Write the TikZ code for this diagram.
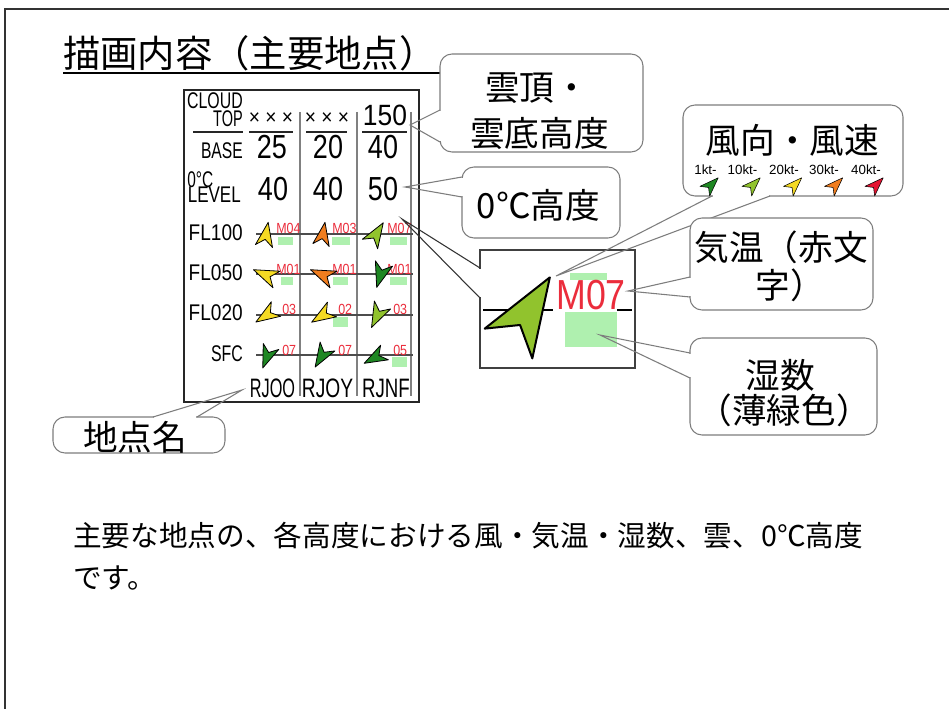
\documentclass[tikz,border=0pt]{standalone}
\usepackage{fontspec}
\usepackage{graphicx}
\setmainfont{Liberation Sans}
\newfontfamily\jp{Noto Sans CJK JP}
\usetikzlibrary{fit}
\definecolor{wyel}{RGB}{245,218,35}
\definecolor{wora}{RGB}{240,125,30}
\definecolor{wlgr}{RGB}{145,195,45}
\definecolor{wdgr}{RGB}{30,135,35}
\definecolor{wred}{RGB}{228,20,50}
\definecolor{tred}{RGB}{235,45,60}
\definecolor{hum}{RGB}{175,240,175}
\definecolor{cgray}{RGB}{125,125,125}
\newcommand{\sx}[2]{\scalebox{#1}[1]{#2}}
\newcommand{\fs}[1]{\fontsize{#1}{#1}\selectfont}
\newcommand{\warrow}[6]{%
  \filldraw[fill=#5, draw=black, line width=#6, line join=round, shift={(#1,#2)}, rotate=#3]
   (#4,0) -- (0,{0.36*#4}) -- ({0.28*#4},0) -- (0,{-0.36*#4}) -- cycle;}
\begin{document}
\begin{tikzpicture}[x=0.75pt,y=-0.75pt,
  cbox/.style={draw=cgray, line width=0.8pt, rounded corners=9pt, fill=white, inner sep=0pt},
  ctail/.style={draw=cgray, line width=0.8pt},
  gapw/.style={draw=white, line width=1.8pt},
  jt/.style={font=\jp\fs{26}, inner sep=0pt},
  lab/.style={font=\fs{17}, inner sep=0pt, anchor=east},
  val/.style={font=\fs{25}, inner sep=0pt},
  stn/.style={font=\fs{20}, inner sep=0pt},
  rt/.style={font=\fs{11}, text=tred, inner sep=0pt, anchor=west},
  kt/.style={font=\fs{10}, inner sep=0pt}]
\useasboundingbox (0,0) rectangle (949,709);
\fill[white] (0,0) rectangle (949,709);
\draw[line width=1.5pt, black!80] (5,709) -- (5,9) -- (949,9);

% title
\node[font=\jp\fs{28}, inner sep=0pt, anchor=base west] (title) at (63,68) {描画内容（主要地点）};
\draw[line width=1.2pt] (63,73) -- (445,73);

% table frame
\node[draw=black!85, line width=1.5pt, fit={(184,90)(419,402)}, inner sep=0pt] (tbl) {};
\foreach \x in {300,357,411} \draw[gray, line width=1.1pt] (\x,112) -- (\x,396);
\foreach \a/\b in {193/243, 249/293, 306/347, 362/407} \draw[line width=1.1pt, black!85] (\a,132) -- (\b,132);
\foreach \y in {234,274,315,355} \draw[black!70, line width=0.8pt] (256,\y) -- (413,\y);

% labels
\node[lab] (cl) at (243,101) {\sx{0.70}{CLOUD}};
\node[lab] (tp) at (243,119) {\sx{0.64}{TOP}};
\node[lab] (bs) at (243,151) {\sx{0.69}{BASE}};
\node[lab, anchor=west] (zc) at (187,180) {\sx{0.68}{0°C}};
\node[lab] (lv) at (241,195) {\sx{0.75}{LEVEL}};
\node[lab] (f1) at (243,233) {\sx{0.84}{FL100}};
\node[lab] (f2) at (243,273) {\sx{0.84}{FL050}};
\node[lab] (f3) at (243,313) {\sx{0.84}{FL020}};
\node[lab] (f4) at (243,354) {\sx{0.70}{SFC}};

% values
\node[font=\fs{16}, inner sep=0pt] (x1) at (271,119) {\sx{0.9}{× × ×}};
\node[font=\fs{16}, inner sep=0pt] (x2) at (327,119) {\sx{0.9}{× × ×}};
\node[font=\fs{22}, inner sep=0pt] (v150) at (385,115) {\sx{0.9}{150}};
\node[val] (b1) at (272,147) {\sx{0.81}{25}};
\node[val] (b2) at (328,147) {\sx{0.81}{20}};
\node[val] (b3) at (383,147) {\sx{0.81}{40}};
\node[val] (z1) at (273,189) {\sx{0.81}{40}};
\node[val] (z2) at (328,189) {\sx{0.81}{40}};
\node[val] (z3) at (383,189) {\sx{0.81}{50}};
\node[stn] (s1) at (272.5,388) {\sx{0.61}{RJOO}};
\node[stn] (s2) at (327.5,388) {\sx{0.72}{RJOY}};
\node[stn] (s3) at (386,388) {\sx{0.70}{RJNF}};

% humidity boxes
\fill[hum] (278,237) rectangle (293,245);
\fill[hum] (332,237) rectangle (350,245);
\fill[hum] (390,237) rectangle (407,245);
\fill[hum] (281,277) rectangle (293,285);
\fill[hum] (333,277) rectangle (348,285);
\fill[hum] (390,277) rectangle (407,285);
\fill[hum] (333,317) rectangle (348,327);
\fill[hum] (392,357) rectangle (407,367);

% temperatures
\node[rt] (r11) at (276,228) {\sx{0.85}{M04}};
\node[rt] (r12) at (332,228) {\sx{0.85}{M03}};
\node[rt] (r13) at (387,228) {\sx{0.85}{M07}};
\node[rt] (r21) at (276,269) {\sx{0.85}{M01}};
\node[rt] (r22) at (332,269) {\sx{0.85}{M01}};
\node[rt] (r23) at (387,269) {\sx{0.85}{M01}};
\node[rt] (r31) at (282,309) {\sx{0.85}{03}};
\node[rt] (r32) at (338,309) {\sx{0.85}{02}};
\node[rt] (r33) at (393,309) {\sx{0.85}{03}};
\node[rt] (r41) at (282,350) {\sx{0.85}{07}};
\node[rt] (r42) at (338,350) {\sx{0.85}{07}};
\node[rt] (r43) at (393,350) {\sx{0.85}{05}};

% wind arrows
\warrow{264}{246}{80}{24}{wyel}{0.6pt}
\warrow{321}{245}{80}{23}{wora}{0.6pt}
\warrow{370}{244}{58}{25}{wlgr}{0.6pt}
\warrow{276.5}{279.5}{157}{25}{wyel}{0.6pt}
\warrow{333.5}{279.5}{157}{25}{wora}{0.6pt}
\warrow{384}{263.5}{253}{25}{wdgr}{0.6pt}
\warrow{276}{309}{213}{24}{wyel}{0.6pt}
\warrow{332}{309.5}{212}{24}{wyel}{0.6pt}
\warrow{382.5}{305}{244}{25}{wlgr}{0.6pt}
\warrow{271}{346.5}{249}{23}{wdgr}{0.6pt}
\warrow{327.5}{346.5}{239}{24}{wdgr}{0.6pt}
\warrow{384.5}{352.5}{208}{23}{wdgr}{0.6pt}

% magnified cell
\node[draw=black!75, line width=1.5pt, fill=white, fit={(480,250)(635,368)}, inner sep=0pt] (mag) {};
\draw[line width=1.5pt] (483,310) -- (632,310);
\fill[white] (553,279) rectangle (617,311.5);
\fill[hum] (570,273) rectangle (607,280);
\fill[hum] (565,311.5) rectangle (617,347);
\node[font=\fs{31.5}, text=tred, inner sep=0pt, anchor=west] (m07) at (556,295) {\sx{0.85}{M07}};
\warrow{508.5}{343.5}{58}{78}{wlgr}{1.5pt}
\coordinate (mt) at (402,219);
\draw[white, line width=2.5pt] (480,269) -- (480,297);
\draw[black!80, line width=0.8pt] (480,268) -- (mt) -- (480,298);

% callout: cloud top/base
\node[cbox, fit={(440,54)(643,152)}] (c1) {};
\draw[gapw] (440,111) -- (440,141);
\coordinate (t1) at (410,125);
\draw[ctail] (440,110) -- (t1) -- (440,142);
\node[jt] (c1a) at (537,88) {雲頂・};
\node[jt] (c1b) at (539.5,133) {雲底高度};

% callout: 0C level
\node[cbox, fit={(462,167)(620,238)}] (c2) {};
\draw[gapw] (462,178) -- (462,196);
\coordinate (t2) at (405,187);
\draw[ctail] (462,177) -- (t2) -- (462,197);
\node[jt] (c2a) at (538.5,205) {0℃高度};

% callout: wind
\node[cbox, fit={(683,105)(903,196)}] (c3) {};
\draw[gapw] (713,196) -- (769,196);
\coordinate (t3) at (556,276);
\draw[ctail] (712,196) -- (t3) -- (770,196);
\node[jt] (c3a) at (792.5,140) {風向・風速};
\node[kt] (k1) at (705.5,170) {1kt-};
\node[kt] (k2) at (742.5,170) {10kt-};
\node[kt] (k3) at (784,170) {20kt-};
\node[kt] (k4) at (824,170) {30kt-};
\node[kt] (k5) at (866,170) {40kt-};
\warrow{704.8}{191.2}{45}{19}{wdgr}{0.4pt}
\warrow{746.8}{191.2}{45}{19}{wlgr}{0.4pt}
\warrow{788.3}{191.2}{45}{19}{wyel}{0.4pt}
\warrow{829.3}{191.2}{45}{19}{wora}{0.4pt}
\warrow{869.8}{191.2}{45}{19}{wred}{0.4pt}

% callout: temperature
\node[cbox, fit={(690,218)(873,310)}] (c4) {};
\draw[gapw] (690,278) -- (690,296);
\coordinate (t4) at (628,291);
\draw[ctail] (690,277) -- (t4) -- (690,297);
\node[jt] (c4a) at (781,247) {気温（赤文};
\node[jt] (c4b) at (790,285) {字）};

% callout: humidity
\node[cbox, fit={(690,338)(877,435)}] (c5) {};
\draw[gapw] (690,354) -- (690,377);
\coordinate (t5) at (600,335);
\draw[ctail] (690,353) -- (t5) -- (690,378);
\node[jt] (c5a) at (780,375) {湿数};
\node[jt] (c5b) at (784,410) {（薄緑色）};

% callout: station name
\node[cbox, fit={(53,417)(225,453)}] (c6) {};
\draw[gapw] (154,417) -- (196,417);
\coordinate (t6) at (242,390);
\draw[ctail] (153,417) -- (t6) -- (197,417);
\node[jt] (c6a) at (135,437) {地点名};

% body text
\node[font=\jp\fs{21.5}, inner sep=0pt, anchor=base west] (body1) at (73,546) {主要な地点の、各高度における風・気温・湿数、雲、0℃高度};
\node[font=\jp\fs{21.5}, inner sep=0pt, anchor=base west] (body2) at (73,588) {です。};
\end{tikzpicture}
\end{document}
